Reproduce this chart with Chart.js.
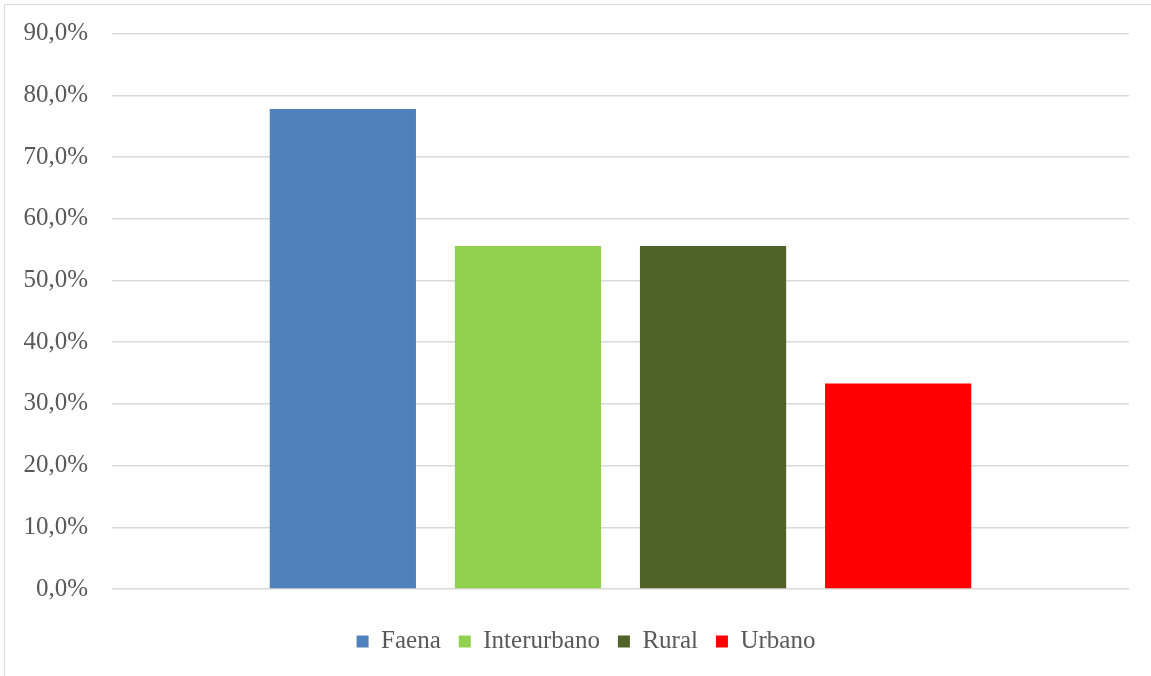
<!DOCTYPE html>
<html>
<head>
<meta charset="utf-8">
<script src="https://cdn.jsdelivr.net/npm/chart.js@4/dist/chart.umd.min.js"></script>
<style>
  html, body { margin:0; padding:0; background:#fff; overflow:hidden; }
  #frame { position:absolute; left:4px; top:4px; width:1170px; height:690px; border:1.5px solid #d9d9d9; }
  #wrap { position:absolute; left:6px; top:6px; width:1160px; height:670px; }
</style>
</head>
<body>
<div id="frame"></div>
<div id="wrap"><canvas id="chart"></canvas></div>
<script>
// series names, one bar each, single (unnamed) category
const categories = [''];
const seriesNames = ['Faena', 'Interurbano', 'Rural', 'Urbano'];
const seriesValues = [77.8, 55.6, 55.6, 33.3];
const seriesColors = ['#4f81bd', '#92d050', '#4f6228', '#ff0000'];
const yTicks = [0, 10, 20, 30, 40, 50, 60, 70, 80, 90];

const FONT = "'Liberation Serif', serif";
const TXT = '#595959';

const datasets = seriesNames.map((name, i) => ({
  label: name,
  data: [seriesValues[i]],
  backgroundColor: seriesColors[i],
  borderWidth: 0,
  categoryPercentage: 0.728,
  barPercentage: 0.79
}));

new Chart(document.getElementById('chart'), {
  type: 'bar',
  data: { labels: categories, datasets },
  options: {
    responsive: true,
    maintainAspectRatio: false,
    animation: false,
    layout: { padding: { left: 0, right: 0, top: 0, bottom: 12 } },
    plugins: {
      tooltip: { enabled: false },
      legend: {
        position: 'bottom',
        labels: {
          font: { family: FONT, size: 25 },
          color: TXT,
          boxWidth: 12,
          boxHeight: 12,
          padding: 18
        }
      }
    },
    scales: {
      x: {
        ticks: { display: false },
        grid: { display: false },
        border: { display: false },
        afterFit: s => { s.height = 22; }
      },
      y: {
        min: 0,
        max: 90,
        afterBuildTicks: s => { s.ticks = yTicks.map(v => ({ value: v })); },
        afterFit: s => { s.width = 106; },
        ticks: {
          padding: 24,
          color: TXT,
          // small lineHeight keeps the axis from reserving extra space above the plot
          font: { family: FONT, size: 25, lineHeight: 0.3 },
          callback: v => v.toFixed(1).replace('.', ',') + '%'
        },
        grid: { color: '#d9d9d9', lineWidth: 1.5, drawTicks: false },
        border: { display: false }
      },
      // empty right-hand axis: only reserves the blank strip right of the plot
      yRight: {
        position: 'right',
        ticks: { display: false },
        grid: { display: false },
        border: { display: false },
        afterFit: s => { s.width = 37; }
      }
    }
  }
});
</script>
</body>
</html>
